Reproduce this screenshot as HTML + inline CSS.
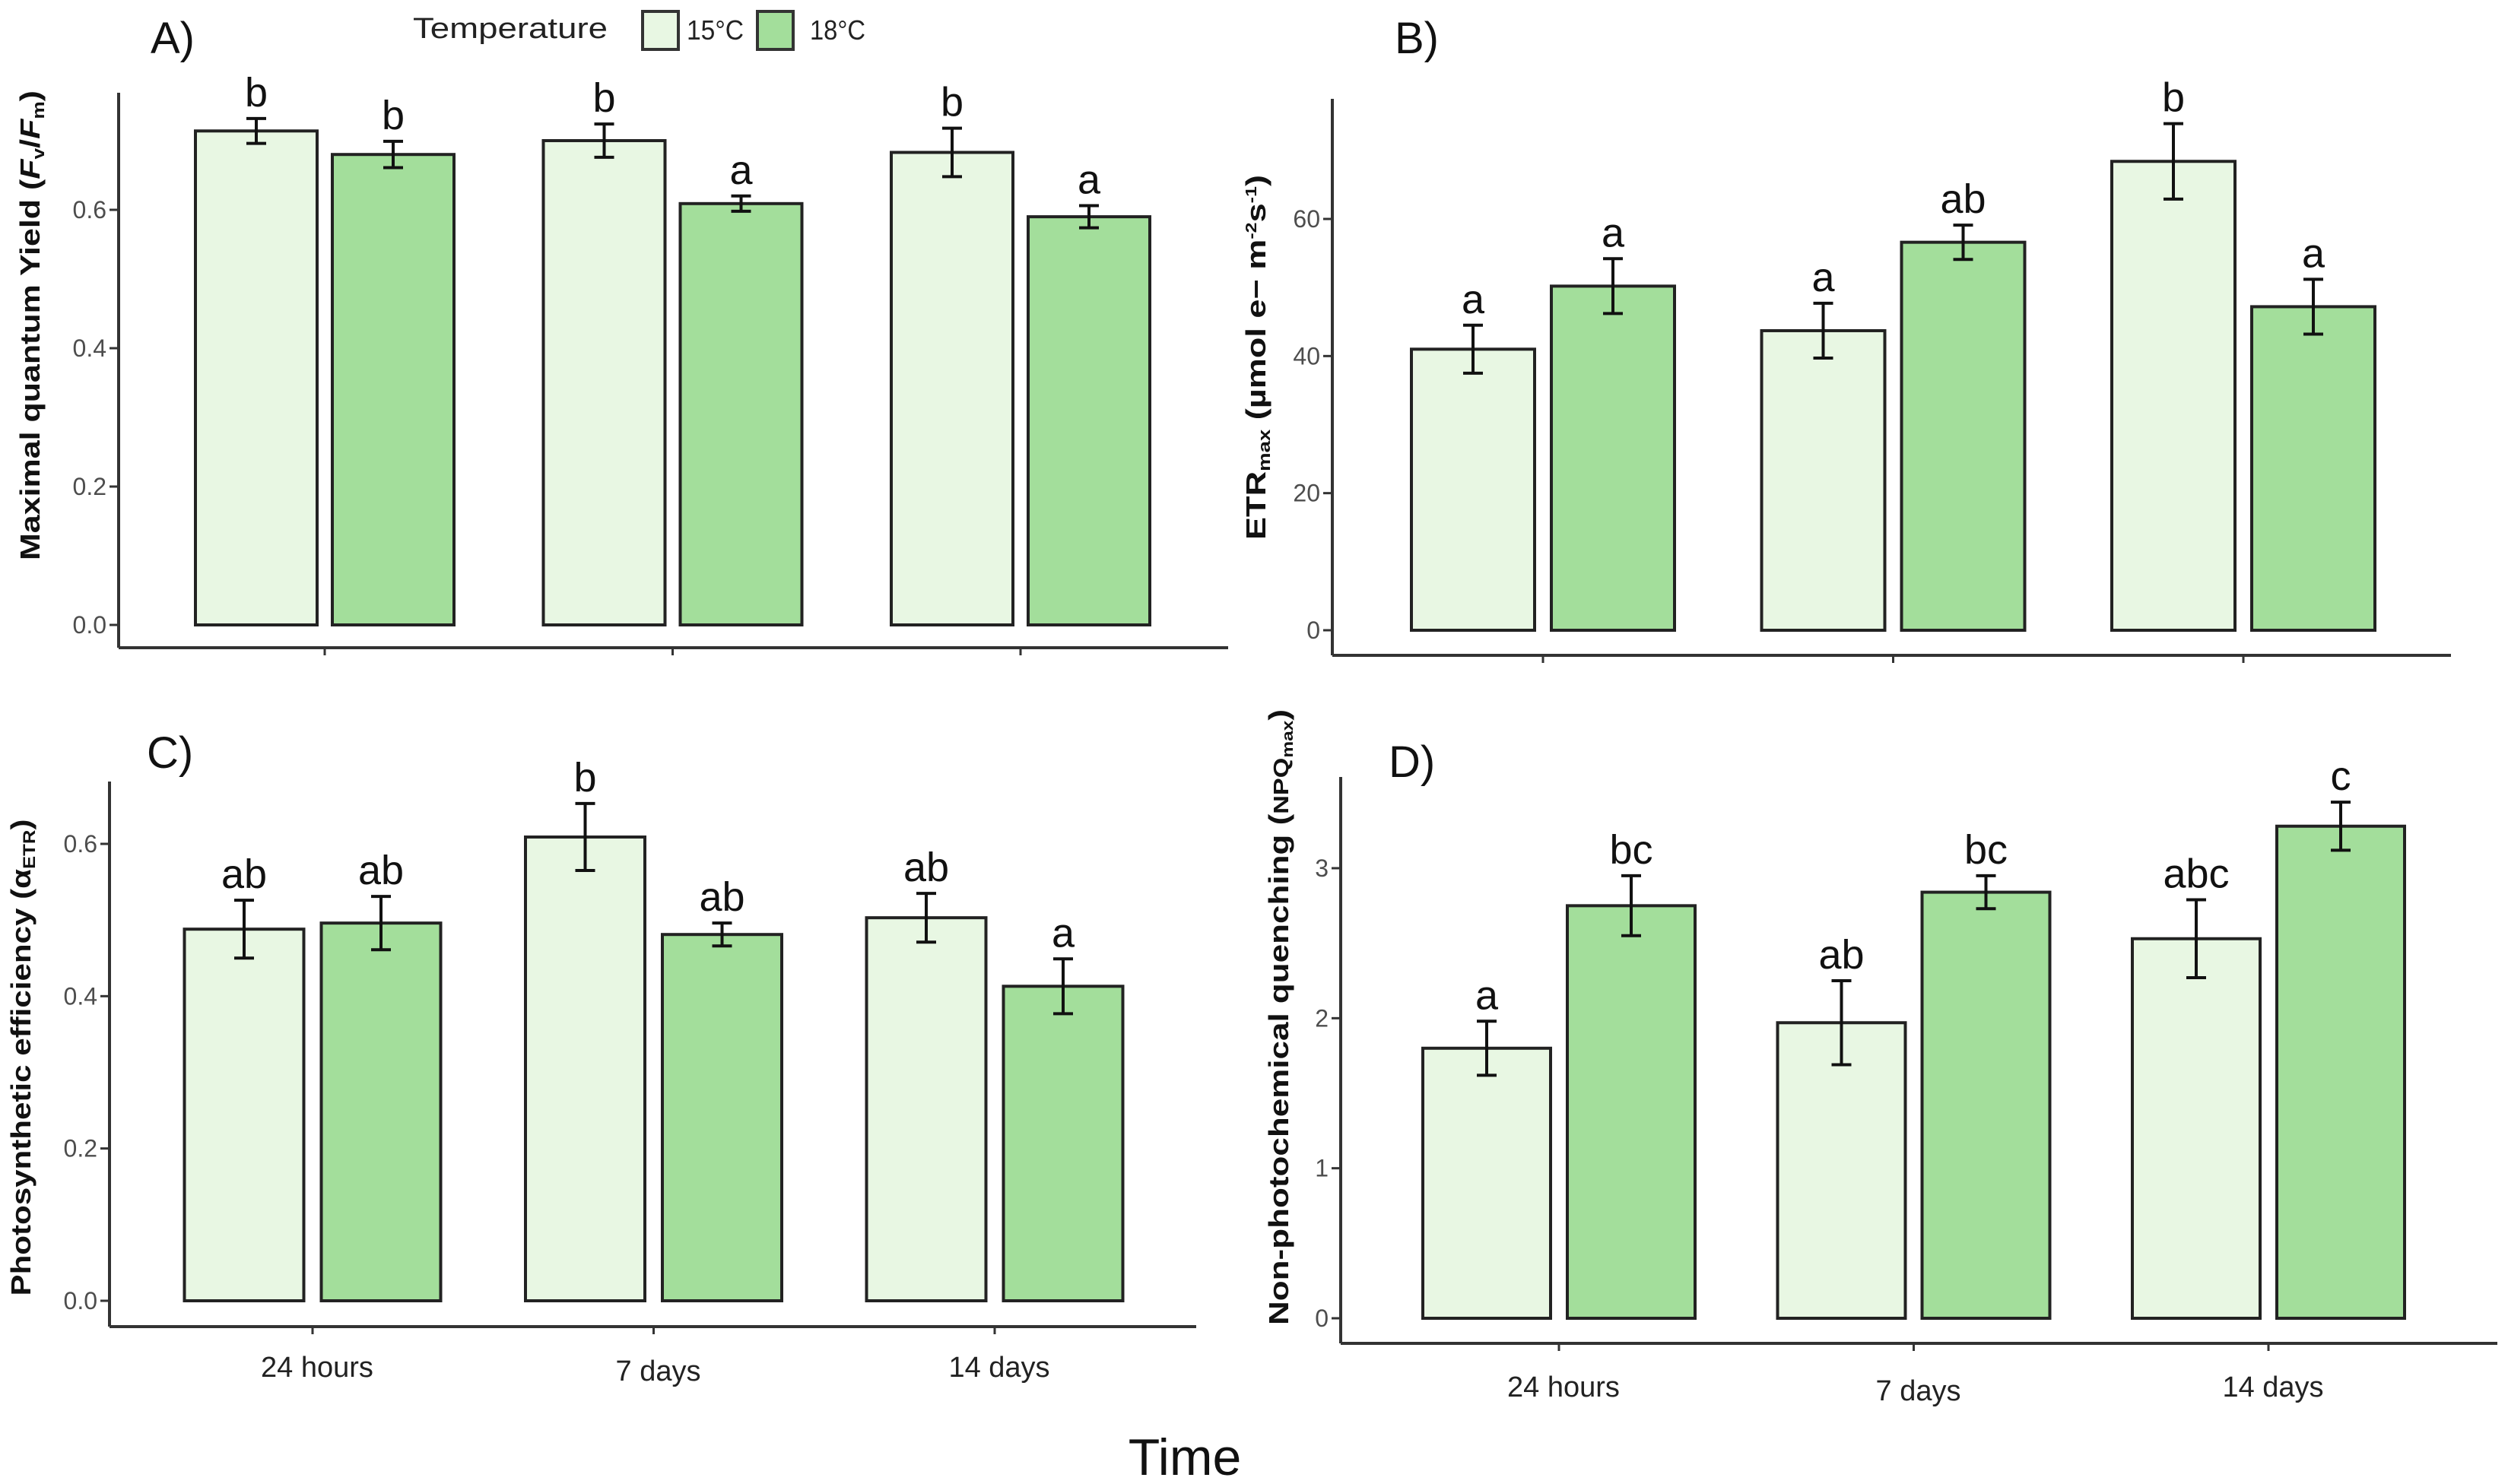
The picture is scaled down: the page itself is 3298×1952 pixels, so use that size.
<!DOCTYPE html>
<html><head><meta charset="utf-8"><style>
html,body{margin:0;padding:0;background:#fff;}
svg{display:block;}
text{font-family:"Liberation Sans",sans-serif;}
</style></head><body>
<svg id="fig" width="3298" height="1952" viewBox="0 0 3298 1952" xmlns="http://www.w3.org/2000/svg">
<rect width="3298" height="1952" fill="#fff"/>
<g>
<text x="543" y="50" font-size="38" textLength="256" lengthAdjust="spacingAndGlyphs" fill="#222">Temperature</text>
<rect x="845" y="15" width="47" height="50" fill="#e8f7e3" stroke="#333" stroke-width="4"/>
<text x="903" y="52" font-size="36" textLength="75" lengthAdjust="spacingAndGlyphs" fill="#222">15°C</text>
<rect x="996" y="15" width="47" height="50" fill="#a3de9b" stroke="#333" stroke-width="4"/>
<text x="1065" y="52" font-size="36" textLength="73" lengthAdjust="spacingAndGlyphs" fill="#222">18°C</text>
</g>
<text x="1558" y="1940" font-size="68" text-anchor="middle" fill="#111">Time</text>
</svg>
<script>
// Shared categories
const categories = ["24 hours", "7 days", "14 days"];
// Panel A: Fv/Fm
const aVals15 = [0.714, 0.700, 0.683];
const aVals18 = [0.680, 0.609, 0.590];
const aErr15 = [0.018, 0.024, 0.035];
const aErr18 = [0.019, 0.011, 0.016];
const aLetters15 = ["b", "b", "b"];
const aLetters18 = ["b", "a", "a"];
const aTicks = [0, 0.2, 0.4, 0.6];
const aTickLabels = ["0.0", "0.2", "0.4", "0.6"];
// Panel B: ETRmax
const bVals15 = [41.0, 43.7, 68.4];
const bVals18 = [50.2, 56.6, 47.2];
const bErr15 = [3.5, 4.0, 5.5];
const bErr18 = [4.0, 2.5, 4.0];
const bLetters15 = ["a", "a", "b"];
const bLetters18 = ["a", "ab", "a"];
const bTicks = [0, 20, 40, 60];
const bTickLabels = ["0", "20", "40", "60"];
// Panel C: alpha ETR
const cVals15 = [0.488, 0.609, 0.503];
const cVals18 = [0.496, 0.481, 0.413];
const cErr15 = [0.038, 0.044, 0.032];
const cErr18 = [0.035, 0.015, 0.036];
const cLetters15 = ["ab", "b", "ab"];
const cLetters18 = ["ab", "ab", "a"];
const cTicks = [0, 0.2, 0.4, 0.6];
const cTickLabels = ["0.0", "0.2", "0.4", "0.6"];
// Panel D: NPQmax
const dVals15 = [1.80, 1.97, 2.53];
const dVals18 = [2.75, 2.84, 3.28];
const dErr15 = [0.18, 0.28, 0.26];
const dErr18 = [0.20, 0.11, 0.16];
const dLetters15 = ["a", "ab", "abc"];
const dLetters18 = ["bc", "bc", "c"];
const dTicks = [0, 1, 2, 3];
const dTickLabels = ["0", "1", "2", "3"];

const NS = "http://www.w3.org/2000/svg";
const svg = document.getElementById("fig");
function mk(tag, attrs, parent) {
  const e = document.createElementNS(NS, tag);
  for (const k in attrs) e.setAttribute(k, attrs[k]);
  (parent || svg).appendChild(e);
  return e;
}

function panel(cfg) {
  const g = mk("g", {});
  
  
  const y = v => cfg.y0 + (cfg.y1 - cfg.y0) * v / cfg.v1;
  const xC = i => cfg.cx0 + i * cfg.cstep;
  const ya = mk("line", {x1: cfg.ax, y1: cfg.atop, x2: cfg.ax, y2: cfg.ay, stroke: "#333", "stroke-width": 4}, g);
  
  
  const xa = mk("line", {x1: cfg.ax, y1: cfg.ay, x2: cfg.axr, y2: cfg.ay, stroke: "#333", "stroke-width": 4}, g);
  
  
  cfg.ticks.forEach((t, i) => {
    const ty = y(t);
    const tk = mk("line", {x1: cfg.ax - 12, y1: ty, x2: cfg.ax, y2: ty, stroke: "#333", "stroke-width": 3}, g);
    
    
    const tl = mk("text", {x: cfg.ax - 16, y: ty + 11, "font-size": 32, "text-anchor": "end", fill: "#4d4d4d"}, g);
    tl.textContent = cfg.tickLabels[i];
    
    
  });
  const series = [
    {vals: cfg.v15, err: cfg.e15, let: cfg.l15, fill: "#e8f7e3", name: "15c", off: -cfg.off},
    {vals: cfg.v18, err: cfg.e18, let: cfg.l18, fill: "#a3de9b", name: "18c", off: cfg.off}
  ];
  categories.forEach((c, i) => {
    const cx = xC(i);
    const xt = mk("line", {x1: cx, y1: cfg.ay, x2: cx, y2: cfg.ay + 10, stroke: "#333", "stroke-width": 3}, g);
    
    
    if (cfg.showX) {
      const xl = mk("text", {x: cx + 6, y: cfg.ay + cfg.xlOff + (i === 1 ? 5 : 0), "font-size": 38, "text-anchor": "middle", fill: "#222"}, g);
      xl.textContent = c;
      
      
    }
    series.forEach(s => {
      const v = s.vals[i];
      const bx = cx + s.off - cfg.bw / 2;
      const r = mk("rect", {x: bx, y: y(v), width: cfg.bw, height: y(0) - y(v), fill: s.fill, stroke: "#222", "stroke-width": 4}, g);
      
      
      const bcx = cx + s.off;
      const top = y(v + s.err[i]), bot = y(v - s.err[i]);
      const eg = mk("g", {stroke: "#111", "stroke-width": 4}, g);
      
      
      mk("line", {x1: bcx, y1: top, x2: bcx, y2: bot}, eg);
      mk("line", {x1: bcx - 13, y1: top, x2: bcx + 13, y2: top}, eg);
      mk("line", {x1: bcx - 13, y1: bot, x2: bcx + 13, y2: bot}, eg);
      const lt = mk("text", {x: bcx, y: top - 16, "font-size": 54, "text-anchor": "middle", fill: "#111"}, g);
      lt.textContent = s.let[i];
      
      
    });
  });
  const pl = mk("text", {x: cfg.plx, y: cfg.ply, "font-size": 58, fill: "#111"}, g);
  pl.textContent = cfg.id.toUpperCase() + ")";
  
  
  const yt = mk("text", {x: 0, y: 0, "font-size": 36, "font-weight": "bold", "text-anchor": "middle", fill: "#111",
    transform: "translate(" + cfg.ytx + "," + cfg.yty + ") rotate(-90)", textLength: cfg.ytl, lengthAdjust: "spacingAndGlyphs"}, g);
  
  
  cfg.title(yt);
}

function tspan(parent, txt, attrs) {
  const t = mk("tspan", attrs || {}, parent);
  t.textContent = txt;
  return t;
}

panel({id: "a", ax: 156, axr: 1615, atop: 122, ay: 852, y0: 822, y1: 276, v0: 0, v1: 0.6,
  cx0: 427, cstep: 457.5, off: 90, bw: 160, ticks: aTicks, tickLabels: aTickLabels,
  v15: aVals15, v18: aVals18, e15: aErr15, e18: aErr18, l15: aLetters15, l18: aLetters18,
  showX: false, plx: 198, ply: 70, ytx: 52, yty: 428, ytl: 618,
  title: e => { tspan(e, "Maximal quantum Yield ("); tspan(e, "F", {"font-style": "italic"}); tspan(e, "v", {"font-size": 22, "dy": 6}); tspan(e, "/", {"dy": -6}); tspan(e, "F", {"font-style": "italic"}); tspan(e, "m", {"font-size": 22, "dy": 6}); tspan(e, ")", {"dy": -6}); }});

panel({id: "b", ax: 1752, axr: 3223, atop: 130, ay: 862, y0: 829, y1: 288, v0: 0, v1: 60,
  cx0: 2029, cstep: 460.5, off: 92, bw: 162, ticks: bTicks, tickLabels: bTickLabels,
  v15: bVals15, v18: bVals18, e15: bErr15, e18: bErr18, l15: bLetters15, l18: bLetters18,
  showX: false, plx: 1834, ply: 70, ytx: 1664, yty: 470, ytl: 480,
  title: e => { tspan(e, "ETR"); tspan(e, "max", {"font-size": 22, "dy": 6}); tspan(e, " (µmol e− m", {"dy": -6}); tspan(e, "-2", {"font-size": 20, "dy": -12}); tspan(e, "s", {"dy": 12}); tspan(e, "-1", {"font-size": 20, "dy": -12}); tspan(e, ")", {"dy": 12}); }});

panel({id: "c", ax: 144, axr: 1573, atop: 1028, ay: 1745, y0: 1711, y1: 1110, v0: 0, v1: 0.6,
  cx0: 411, cstep: 448.5, off: 90, bw: 157, ticks: cTicks, tickLabels: cTickLabels,
  v15: cVals15, v18: cVals18, e15: cErr15, e18: cErr18, l15: cLetters15, l18: cLetters18,
  showX: true, xlOff: 66, plx: 193, ply: 1010, ytx: 40, yty: 1391, ytl: 627,
  title: e => { tspan(e, "Photosynthetic efficiency (α"); tspan(e, "ETR", {"font-size": 22, "dy": 6}); tspan(e, ")", {"dy": -6}); }});

panel({id: "d", ax: 1763, axr: 3284, atop: 1022, ay: 1767, y0: 1734, y1: 1142, v0: 0, v1: 3,
  cx0: 2050, cstep: 466.5, off: 95, bw: 168, ticks: dTicks, tickLabels: dTickLabels,
  v15: dVals15, v18: dVals18, e15: dErr15, e18: dErr18, l15: dLetters15, l18: dLetters18,
  showX: true, xlOff: 70, plx: 1826, ply: 1022, ytx: 1694, yty: 1338, ytl: 810,
  title: e => { tspan(e, "Non-photochemical quenching ("); tspan(e, "NPQ", {"font-size": 28}); tspan(e, "max", {"font-size": 20, "dy": 6}); tspan(e, ")", {"dy": -6}); }});
</script>
</body></html>
